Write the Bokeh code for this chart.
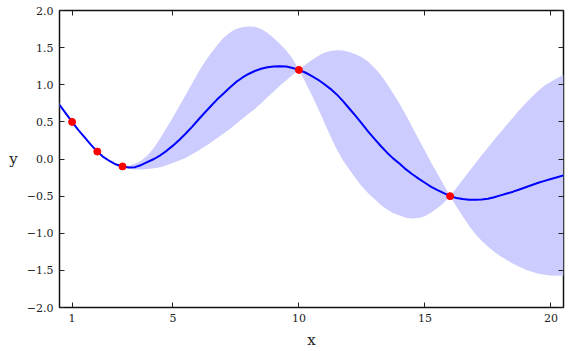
from bokeh.plotting import figure
from bokeh.models import LinearAxis, FixedTicker, ColumnDataSource
from bokeh.embed import file_html
from bokeh.resources import INLINE

# Observed training points
obs_x = [1, 2, 3, 10, 16]
obs_y = [0.5, 0.1, -0.1, 1.2, -0.5]

# Predictive mean and confidence band
grid_x = [0.5, 0.75, 1.0, 1.25, 1.5, 1.75, 2.0, 2.25, 2.5, 2.75, 3.0,
          3.25, 3.5, 3.75, 4.0, 4.25, 4.5, 4.75, 5.0, 5.25, 5.5, 5.75, 6.0,
          6.25, 6.5, 6.75, 7.0, 7.25, 7.5, 7.75, 8.0, 8.25, 8.5, 8.75, 9.0,
          9.25, 9.5, 9.75, 10.0,
          10.25, 10.5, 10.75, 11.0, 11.25, 11.5, 11.75, 12.0, 12.25, 12.5,
          12.75, 13.0, 13.25, 13.5, 13.75, 14.0, 14.25, 14.5, 14.75, 15.0,
          15.25, 15.5, 15.75, 16.0,
          16.25, 16.5, 16.75, 17.0, 17.25, 17.5, 17.75, 18.0, 18.25, 18.5,
          18.75, 19.0, 19.25, 19.5, 19.75, 20.0, 20.25, 20.5]
mean_y = [0.73, 0.615, 0.50, 0.39, 0.29, 0.19, 0.10, 0.025, -0.03, -0.075, -0.10,
          -0.115, -0.11, -0.08, -0.04, 0.00, 0.05, 0.11, 0.18, 0.255, 0.34, 0.43,
          0.525, 0.62, 0.71, 0.80, 0.88, 0.96, 1.035, 1.095, 1.145, 1.185, 1.215,
          1.235, 1.245, 1.25, 1.245, 1.225, 1.20,
          1.165, 1.12, 1.07, 1.01, 0.945, 0.87, 0.78, 0.68, 0.58, 0.475,
          0.37, 0.27, 0.175, 0.085, 0.005, -0.065, -0.14, -0.205, -0.265, -0.32,
          -0.375, -0.42, -0.46, -0.50,
          -0.525, -0.54, -0.548, -0.55, -0.545, -0.535, -0.515, -0.49, -0.465,
          -0.44, -0.41, -0.38, -0.35, -0.32, -0.295, -0.27, -0.245, -0.22]
upper_y = [0.76, 0.625, 0.50, 0.395, 0.30, 0.195, 0.10, 0.03, -0.025, -0.07, -0.10,
           -0.09, -0.065, -0.02, 0.05, 0.15, 0.28, 0.42, 0.56, 0.71, 0.86, 1.01,
           1.16, 1.30, 1.42, 1.53, 1.63, 1.70, 1.75, 1.775, 1.785, 1.78, 1.75,
           1.70, 1.63, 1.55, 1.46, 1.35, 1.20,
           1.27, 1.33, 1.385, 1.43, 1.455, 1.465, 1.46, 1.44, 1.41, 1.37,
           1.31, 1.23, 1.13, 1.01, 0.88, 0.74, 0.59, 0.43, 0.27, 0.11,
           -0.05, -0.20, -0.35, -0.50,
           -0.39, -0.28, -0.17, -0.06, 0.05, 0.15, 0.26, 0.36, 0.46, 0.56,
           0.66, 0.75, 0.84, 0.92, 0.99, 1.04, 1.09, 1.13]
lower_y = [0.70, 0.605, 0.50, 0.385, 0.28, 0.185, 0.10, 0.02, -0.035, -0.08, -0.10,
           -0.13, -0.14, -0.14, -0.135, -0.125, -0.11, -0.085, -0.055, -0.02, 0.015,
           0.06, 0.11, 0.165, 0.22, 0.28, 0.34, 0.40, 0.47, 0.54, 0.61, 0.675,
           0.75, 0.83, 0.91, 0.99, 1.06, 1.13, 1.20,
           1.04, 0.87, 0.69, 0.50, 0.31, 0.13, -0.02, -0.14, -0.26, -0.37,
           -0.46, -0.54, -0.62, -0.68, -0.73, -0.76, -0.79, -0.80, -0.795, -0.77,
           -0.72, -0.66, -0.59, -0.50,
           -0.64, -0.77, -0.90, -1.01, -1.10, -1.18, -1.25, -1.31, -1.36, -1.41,
           -1.45, -1.49, -1.52, -1.545, -1.56, -1.57, -1.572, -1.57]

x_ticks = [1, 5, 10, 15, 20]
y_ticks = [-2.0, -1.5, -1.0, -0.5, 0.0, 0.5, 1.0, 1.5, 2.0]
y_tick_labels = ["\u22122.0", "\u22121.5", "\u22121.0", "\u22120.5", "0.0",
                 "0.5", "1.0", "1.5", "2.0"]

FONT = "DejaVu Serif"

p = figure(width=574, height=351, x_range=(0.5, 20.5), y_range=(-2, 2),
           output_backend="svg", toolbar_location=None,
           min_border_left=59, min_border_right=11, min_border_top=10,
           min_border_bottom=44)
p.grid.visible = False
p.background_fill_color = "white"
p.border_fill_color = "white"
p.outline_line_color = "#111111"
p.outline_line_width = 1.5
p.outline_line_alpha = 1.0

band = ColumnDataSource(dict(x=grid_x, lo=lower_y, hi=upper_y, m=mean_y))
p.varea(x="x", y1="lo", y2="hi", source=band, fill_color="#ccccff", fill_alpha=1.0)
p.line(x="x", y="m", source=band, line_color="#0000ff", line_width=2,
       line_join="round")
p.scatter(obs_x, obs_y, size=7, fill_color="#ff0000", line_color="#ff0000")

def style_axis(ax, show_labels):
    ax.minor_tick_line_color = None
    ax.major_tick_in = 5
    ax.major_tick_out = 0
    ax.major_tick_line_color = "#222222"
    ax.major_tick_line_width = 1
    ax.axis_line_color = None
    ax.major_label_text_font = FONT
    ax.major_label_text_color = "#222222"
    if show_labels:
        ax.major_label_text_font_size = "11px"
    else:
        ax.major_label_text_font_size = "0px"
        ax.major_label_standoff = 0

xa = p.xaxis[0]
ya = p.yaxis[0]
xa.ticker = FixedTicker(ticks=x_ticks)
ya.ticker = FixedTicker(ticks=y_ticks)
ya.major_label_overrides = {v: s for v, s in zip(y_ticks, y_tick_labels)}
style_axis(xa, True)
style_axis(ya, True)
xa.major_label_standoff = 6
ya.major_label_standoff = 6
xa.axis_label = "x"
ya.axis_label = "y"
for ax in (xa, ya):
    ax.axis_label_text_font = FONT
    ax.axis_label_text_font_style = "normal"
    ax.axis_label_text_font_size = "15px"
    ax.axis_label_text_color = "#222222"
xa.axis_label_standoff = 6
ya.axis_label_standoff = 6
ya.axis_label_orientation = "horizontal"

top = LinearAxis(ticker=FixedTicker(ticks=x_ticks))
style_axis(top, False)
top.major_label_overrides = {v: "" for v in x_ticks}
p.add_layout(top, "above")
right = LinearAxis(ticker=FixedTicker(ticks=y_ticks))
style_axis(right, False)
right.major_label_overrides = {v: "" for v in y_ticks}
p.add_layout(right, "right")

open("out.html", "w").write(file_html(p, INLINE))
